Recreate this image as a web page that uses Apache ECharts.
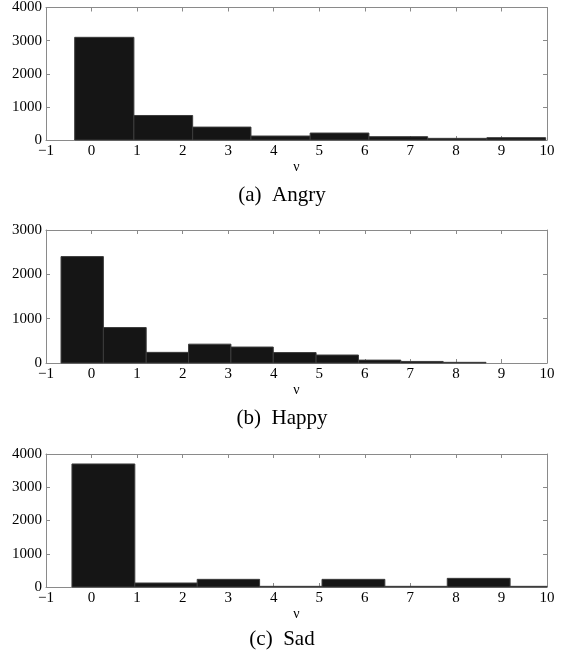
<!DOCTYPE html>
<html>
<head>
<meta charset="utf-8">
<script src="https://cdn.jsdelivr.net/npm/echarts@6/dist/echarts.min.js"></script>
<style>html,body{margin:0;padding:0;background:#fff;}#c{width:564px;height:657px;}</style>
</head>
<body>
<div id="c"></div>
<script>
// x tick values shared by all panels
var xTicks = [-1, 0, 1, 2, 3, 4, 5, 6, 7, 8, 9, 10];
// (a) Angry
var angryEdges = [-0.37, 0.93, 2.22, 3.50, 4.80, 6.09, 7.38, 8.68, 9.97];
var angryCounts = [3100, 740, 390, 120, 210, 100, 50, 70];
// (b) Happy
var happyEdges = [-0.67, 0.26, 1.20, 2.13, 3.06, 3.99, 4.93, 5.86, 6.79, 7.72, 8.66];
var happyCounts = [2400, 800, 240, 425, 360, 235, 180, 65, 35, 15];
// (c) Sad
var sadEdges = [-0.43, 0.95, 2.32, 3.69, 5.06, 6.44, 7.81, 9.19, 10.56];
var sadCounts = [3700, 120, 230, 20, 230, 20, 260, 20];
var captions = ['(a)  Angry', '(b)  Happy', '(c)  Sad'];
var yMax = [4000, 3000, 4000];

function toData(edges, counts){
  var d = [];
  for (var i = 0; i < counts.length; i++) d.push([edges[i], edges[i+1], counts[i]]);
  return d;
}
var panels = [toData(angryEdges, angryCounts), toData(happyEdges, happyCounts), toData(sadEdges, sadCounts)];

var FONT = 'Liberation Serif';
var gridTops = [7, 230, 454];
var gridH = 133;
var axisColor = '#8a8a8a';

var grids = [], xAxes = [], yAxes = [], series = [], graphics = [];
function renderItem(params, api){
  var p0 = api.coord([api.value(0), api.value(2)]);
  var p1 = api.coord([api.value(1), 0]);
  var cs = params.coordSys;
  var shape = echarts.graphic.clipRectByRect({
    x: p0[0], y: p0[1], width: p1[0] - p0[0], height: p1[1] - p0[1]
  }, {x: cs.x, y: cs.y, width: cs.width, height: cs.height});
  if (!shape) return null;
  return {type: 'rect', shape: shape, style: {fill: '#151515', stroke: '#3c3c3c', lineWidth: 1}};
}
for (var k = 0; k < 3; k++){
  grids.push({left: 46, right: 17, top: gridTops[k], height: gridH, show: false});
  var common = {
    type: 'value', min: -1, max: 10, interval: 1, gridIndex: k,
    axisLine: {show: true, onZero: false, lineStyle: {color: axisColor, width: 1}},
    axisTick: {show: true, inside: true, length: 4, lineStyle: {color: axisColor}},
    splitLine: {show: false}
  };
  xAxes.push(Object.assign({}, common, {
    position: 'bottom',
    name: 'ν', nameLocation: 'middle', nameGap: 19,
    nameTextStyle: {fontFamily: FONT, fontSize: 14, color: '#000'},
    axisLabel: {show: true, margin: 4, fontFamily: FONT, fontSize: 15, color: '#000',
      formatter: function(v){ return String(v).replace('-', '\u2212'); }}
  }));
  xAxes.push(Object.assign({}, common, {position: 'top', axisLabel: {show: false}}));
  var ycommon = {
    type: 'value', min: 0, max: yMax[k], interval: 1000, gridIndex: k,
    axisLine: {show: true, onZero: false, lineStyle: {color: axisColor, width: 1}},
    axisTick: {show: true, inside: true, length: 4, lineStyle: {color: axisColor}},
    splitLine: {show: false}
  };
  yAxes.push(Object.assign({}, ycommon, {
    position: 'left',
    axisLabel: {show: true, margin: 4, fontFamily: FONT, fontSize: 15, color: '#000',
      formatter: function(v){ return String(v); }}
  }));
  yAxes.push(Object.assign({}, ycommon, {position: 'right', axisLabel: {show: false}}));
  series.push({
    type: 'custom', xAxisIndex: 2*k, yAxisIndex: 2*k,
    renderItem: renderItem, data: panels[k], encode: {x: [0, 1], y: 2}, silent: true
  });
}
var captionY = [197, 420, 641];
for (var k = 0; k < 3; k++){
  graphics.push({type: 'text', left: 'center', top: captionY[k] - 12,
    style: {text: captions[k], font: '21px "Liberation Serif"', fill: '#000'}});
}
var chart = echarts.init(document.getElementById('c'), null, {renderer: 'canvas'});
chart.setOption({
  animation: false,
  grid: grids, xAxis: xAxes, yAxis: yAxes, series: series, graphic: graphics
});
</script>
</body>
</html>
